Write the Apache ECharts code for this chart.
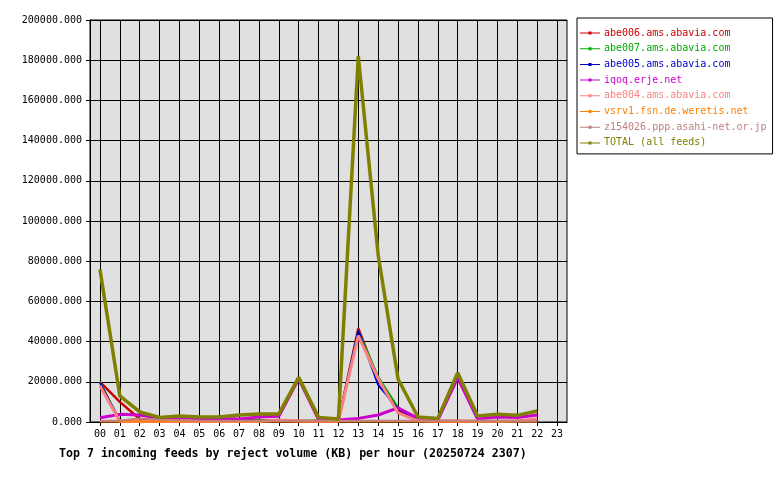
<!DOCTYPE html>
<html>
<head>
<meta charset="utf-8">
<script src="https://cdn.jsdelivr.net/npm/echarts@6/dist/echarts.min.js"></script>
<style>
html,body{margin:0;padding:0;background:#fff;}
#chart{width:780px;height:480px;}
</style>
</head>
<body>
<div id="chart"></div>
<script>
var hours = ['00','01','02','03','04','05','06','07','08','09','10','11','12','13','14','15','16','17','18','19','20','21','22','23'];
var abe006 = [20000, 10000, 1500, 600, 500, 500, 800, 900, 700, 500, 500, 400, 400, 46500, 21000, 6000, 800, 500, 500, 400, 400, 400, 400];
var abe007 = [20000, 600, 500, 500, 500, 500, 500, 500, 900, 600, 500, 900, 500, 45500, 22500, 7200, 800, 500, 500, 400, 400, 400, 400];
var abe005 = [19500, 500, 500, 500, 500, 500, 900, 500, 500, 500, 500, 500, 500, 45500, 18500, 6500, 800, 500, 500, 400, 400, 400, 400];
var iqoq = [2100, 3800, 3500, 1800, 2200, 1800, 1800, 1500, 2500, 2800, 21500, 1200, 1000, 1800, 3500, 7000, 1800, 1000, 22000, 1500, 2500, 2200, 3500];
var abe004 = [18000, 200, 300, 300, 300, 300, 300, 300, 300, 1000, 500, 400, 400, 43000, 21500, 4500, 600, 400, 400, 400, 400, 600, 1500];
var vsrv1 = [300, 300, 300, 300, 300, 300, 300, 300, 300, 300, 300, 300, 300, 300, 300, 300, 300, 300, 300, 300, 300, 300, 300];
var z154026 = [500, 800, 1800, 1200, 900, 700, 600, 600, 600, 600, 600, 600, 600, 600, 600, 600, 600, 600, 600, 600, 600, 600, 600];
var total = [76000, 13000, 5000, 2300, 3000, 2500, 2500, 3500, 4000, 4000, 22200, 2300, 1500, 182000, 83000, 21400, 2500, 1800, 24500, 3000, 3800, 3300, 5500];
var yTicks = {min: 0, max: 200000, interval: 20000};

var names = ['abe006.ams.abavia.com','abe007.ams.abavia.com','abe005.ams.abavia.com','iqoq.erje.net','abe004.ams.abavia.com','vsrv1.fsn.de.weretis.net','z154026.ppp.asahi-net.or.jp','TOTAL (all feeds)'];
var datas = [abe006, abe007, abe005, iqoq, abe004, vsrv1, z154026, total];
var colors = ['#cc0000','#00aa00','#0000cc','#cc00cc','#ff8080','#ff8000','#c08080','#808000'];
var widths = [2.5, 2, 2, 3, 3, 2, 2, 3.5];

var font = 'DejaVu Sans Mono';
var series = names.map(function(n, i){
  return {
    name: n, type: 'line', data: datas[i],
    symbol: 'none', showSymbol: false,
    lineStyle: {color: colors[i], width: widths[i]},
    itemStyle: {color: colors[i]},
    emphasis: {disabled: true},
    animation: false
  };
});

var legendIcon = 'path://M0,1.5 L20,1.5 L20,2.5 L0,2.5 Z M8.5,0.5 L11.5,0.5 L11.5,3.5 L8.5,3.5 Z M0,0 L0.01,0 L0.01,0.01 Z M19.99,3.99 L20,3.99 L20,4 Z';

var chart = echarts.init(document.getElementById('chart'));
chart.setOption({
  backgroundColor: '#ffffff',
  color: colors,
  animation: false,
  title: {
    text: 'Top 7 incoming feeds by reject volume (KB) per hour (20250724 2307)',
    left: 54, top: 443,
    textStyle: {fontFamily: font, fontSize: 11.6, fontWeight: 'bold', color: '#000'}
  },
  legend: {
    orient: 'vertical', left: 577, top: 18, width: 194,
    padding: [10, 6, 6, 3],
    backgroundColor: '#ffffff', borderColor: '#000', borderWidth: 1,
    icon: legendIcon,
    itemWidth: 20, itemHeight: 4, itemGap: 5.7,
    textStyle: {fontFamily: font, fontSize: 10, lineHeight: 10, padding: [0, 0, 0, -1]},
    data: names.map(function(n, i){ return {name: n, textStyle: {color: colors[i]}, itemStyle: {color: colors[i]}}; })
  },
  grid: {
    left: 90, top: 20, right: 213, bottom: 58,
    show: true, backgroundColor: '#e0e0e0', borderColor: '#000', borderWidth: 1
  },
  xAxis: {
    type: 'category', data: hours, boundaryGap: true,
    axisLine: {lineStyle: {color: '#000', width: 1}},
    axisTick: {show: true, alignWithLabel: true, length: 4, lineStyle: {color: '#000'}},
    axisLabel: {fontFamily: font, fontSize: 10, color: '#000', margin: 7, interval: 0},
    splitLine: {show: true, alignWithLabel: true, interval: 0, lineStyle: {color: '#000', width: 1}}
  },
  yAxis: {
    type: 'value', min: yTicks.min, max: yTicks.max, interval: yTicks.interval,
    axisLine: {show: true, lineStyle: {color: '#000'}},
    axisTick: {show: true, length: 4, lineStyle: {color: '#000'}},
    axisLabel: {fontFamily: font, fontSize: 10, color: '#000', margin: 8,
      formatter: function(v){ return v.toFixed(3); }},
    splitLine: {show: true, lineStyle: {color: '#000', width: 1}}
  },
  series: series
});
</script>
</body>
</html>
